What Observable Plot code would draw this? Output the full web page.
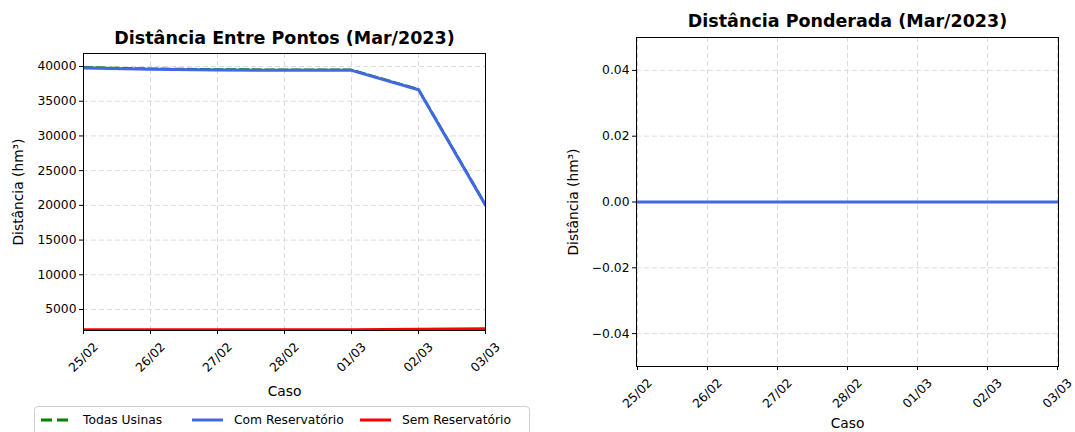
<!DOCTYPE html>
<html>
<head>
<meta charset="utf-8">
<script src="https://cdn.jsdelivr.net/npm/d3@7"></script>
<script src="https://cdn.jsdelivr.net/npm/@observablehq/plot@0.6"></script>
<style>
  html, body { margin: 0; padding: 0; background: #fff; }
  #root { position: relative; width: 1075px; height: 432px; overflow: hidden; font-family: "DejaVu Sans", sans-serif; }
  .chart { position: absolute; top: 0; }
  .chart svg { overflow: visible; }
  #legend { position: absolute; left: 34px; top: 406px; width: 496px; height: 34px; border: 1px solid #d0d0d0; border-radius: 4px; box-sizing: border-box; font-size: 12.3px; }
  .li { position: absolute; top: 4px; height: 18px; display: flex; align-items: center; color: #000; }
  .li svg { margin-right: 11px; }
</style>
</head>
<body>
<div id="root">
  <div id="left" class="chart" style="left:0px"></div>
  <div id="right" class="chart" style="left:540px"></div>
  <div id="legend"></div>
</div>
<script>
// ---- data ----
const dates = ["25/02", "26/02", "27/02", "28/02", "01/03", "02/03", "03/03"];
const todasUsinas = [39880, 39680, 39580, 39530, 39520, 36720, 20100];
const comReservatorio = [39800, 39600, 39500, 39450, 39450, 36650, 20030];
const semReservatorio = [2080, 2080, 2080, 2080, 2090, 2140, 2230];
const ponderadaCom = [0, 0, 0, 0, 0, 0, 0];
const leftTicks = [5000, 10000, 15000, 20000, 25000, 30000, 35000, 40000];
const rightTicks = [-0.04, -0.02, 0.00, 0.02, 0.04];
const seriesNames = ["Todas Usinas", "Com Reservatório", "Sem Reservatório"];
const seriesColors = ["green", "#4169e1", "red"];
const titleLeft = "Distância Entre Pontos (Mar/2023)";
const titleRight = "Distância Ponderada (Mar/2023)";
const yLabel = "Distância (hm³)";
const xLabel = "Caso";

const rows = (vals) => dates.map((d, i) => ({ d, v: vals[i] }));
const FONT = "DejaVu Sans";
const gridStyle = { stroke: "#dcdcdc", strokeOpacity: 1, strokeDasharray: "5,3", strokeWidth: 1 };

function common(opts) {
  return [
    Plot.gridX(dates, { x: d => d, ...gridStyle }),
    Plot.gridY(opts.yTicks, { y: d => d, ...gridStyle }),
    Plot.axisX({ ticks: dates, tickSize: 4, tickFormat: () => "", label: null }),
    Plot.axisY({ ticks: opts.yTicks, tickSize: 4, tickPadding: 3, fontSize: 12.3, tickFormat: opts.fmt, label: null }),
    Plot.text(dates, { x: d => d, text: d => d, frameAnchor: "bottom", dy: opts.tickDy, rotate: -45, textAnchor: "middle", lineAnchor: "middle", fontSize: 12.3 }),
    Plot.text([opts.title], { frameAnchor: "top", dy: opts.titleDy, lineAnchor: "middle", textAnchor: "middle", fontSize: 17.5, fontWeight: "bold", text: d => d }),
    Plot.text([yLabel], { frameAnchor: "left", dx: opts.ylabDx, rotate: -90, lineAnchor: "middle", textAnchor: "middle", fontSize: 13.8, text: d => d }),
    Plot.text([xLabel], { frameAnchor: "bottom", dy: opts.xlabDy, lineAnchor: "middle", textAnchor: "middle", fontSize: 13.8, text: d => d })
  ];
}

// ---- left chart ----
const allVals = [...todasUsinas, ...comReservatorio, ...semReservatorio];
const left = Plot.plot({
  width: 540, height: 405,
  marginLeft: 83, marginRight: 55, marginTop: 53, marginBottom: 75,
  style: { fontFamily: FONT, fontSize: "12.3px", color: "#000", background: "transparent" },
  x: { type: "point", domain: dates, padding: 0 },
  y: { domain: [d3.min(allVals) * 0.95, d3.max(allVals) * 1.05] },
  marks: [
    ...common({ yTicks: leftTicks, fmt: d3.format("d"), title: titleLeft, titleDy: -15, tickDy: 27, ylabDx: -65, xlabDy: 61 }),
    Plot.line(rows(todasUsinas), { x: "d", y: "v", stroke: seriesColors[0], strokeWidth: 2.5, strokeDasharray: "9,4", clip: true }),
    Plot.line(rows(comReservatorio), { x: "d", y: "v", stroke: seriesColors[1], strokeWidth: 3, clip: true }),
    Plot.line(rows(semReservatorio), { x: "d", y: "v", stroke: seriesColors[2], strokeWidth: 3, clip: true }),
    Plot.frame({ stroke: "#000", strokeWidth: 1 })
  ]
});
document.getElementById("left").appendChild(left);

// ---- right chart ----
const right = Plot.plot({
  width: 535, height: 432,
  marginLeft: 96, marginRight: 17, marginTop: 37, marginBottom: 66,
  style: { fontFamily: FONT, fontSize: "12.3px", color: "#000", background: "transparent" },
  x: { type: "point", domain: dates, padding: 0 },
  y: { domain: [-0.05, 0.05] },
  marks: [
    ...common({ yTicks: rightTicks, fmt: d3.format(".2f"), title: titleRight, titleDy: -16, tickDy: 27, ylabDx: -63, xlabDy: 57 }),
    Plot.line(rows(ponderadaCom), { x: "d", y: "v", stroke: seriesColors[1], strokeWidth: 3, clip: true }),
    Plot.frame({ stroke: "#000", strokeWidth: 1 })
  ]
});
document.getElementById("right").appendChild(right);

// ---- legend ----
const legend = document.getElementById("legend");
const itemLeft = [6, 157, 325];
seriesNames.forEach((name, i) => {
  const div = document.createElement("div");
  div.className = "li";
  div.style.left = itemLeft[i] + "px";
  const dash = i === 0 ? 'stroke-dasharray="11,5"' : "";
  div.innerHTML = `<svg width="31" height="10"><line x1="0" x2="31" y1="5" y2="5" stroke="${seriesColors[i]}" stroke-width="3" ${dash}/></svg><span>${name}</span>`;
  legend.appendChild(div);
});
</script>
</body>
</html>
